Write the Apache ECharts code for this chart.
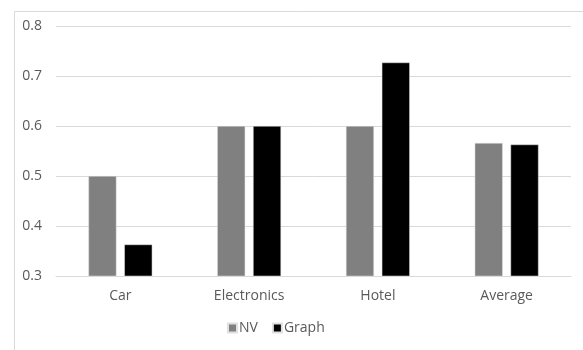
<!DOCTYPE html>
<html><head><meta charset="utf-8">
<script src="https://cdn.jsdelivr.net/npm/echarts@6/dist/echarts.min.js"></script>
<style>html,body{margin:0;padding:0;background:#fff}#c{width:583px;height:350px}</style>
</head><body><div id="c"></div>
<script>
const categories = ['Car', 'Electronics', 'Hotel', 'Average'];
const nvValues = [0.5, 0.6, 0.6, 0.566];
const graphValues = [0.363, 0.6, 0.727, 0.563];
const yTicks = { min: 0.3, max: 0.8, step: 0.1 };

const chart = echarts.init(document.getElementById('c'));
const font = '"Open Sans", "Noto Sans", sans-serif';
chart.setOption({
  animation: false,
  textStyle: { fontFamily: font },
  graphic: [{
    type: 'rect', left: 12, top: 9,
    shape: { width: 600, height: 360 },
    style: { fill: 'none', stroke: '#d9d9d9', lineWidth: 1 }, silent: true
  }],
  grid: { left: 56, right: 12, top: 26, bottom: 74, containLabel: false },
  legend: {
    data: ['NV', 'Graph'], bottom: 10, left: 222,
    itemWidth: 9, itemHeight: 9, itemGap: 14,
    icon: 'rect',
    textStyle: { color: '#595959', fontSize: 14, fontFamily: font, padding: [0, 0, 0, -3] }
  },
  xAxis: {
    type: 'category', data: categories,
    axisLine: { lineStyle: { color: '#d9d9d9', width: 1 } },
    axisTick: { show: false },
    axisLabel: { color: '#595959', fontSize: 14, margin: 13, fontFamily: font }
  },
  yAxis: {
    type: 'value', min: yTicks.min, max: yTicks.max, interval: yTicks.step,
    axisLine: { show: false }, axisTick: { show: false },
    splitLine: { lineStyle: { color: '#d9d9d9', width: 1 } },
    axisLabel: { color: '#595959', fontSize: 14, margin: 14, fontFamily: font,
      formatter: v => v.toFixed(1) }
  },
  series: [
    { name: 'NV', type: 'bar', data: nvValues, barWidth: 28, barGap: '28%',
      itemStyle: { color: '#808080', borderColor: '#e0e0e0', borderWidth: 0.5 } },
    { name: 'Graph', type: 'bar', data: graphValues, barWidth: 28,
      itemStyle: { color: '#000000', borderColor: '#e0e0e0', borderWidth: 0.5 } }
  ]
});
</script></body></html>
